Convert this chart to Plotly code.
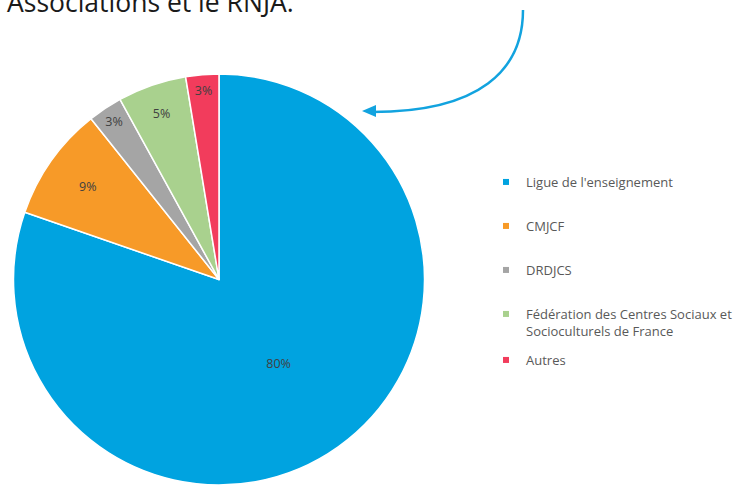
import plotly.graph_objects as go

W, H = 742, 485

# Data
categories = [
    "Ligue de l'enseignement",
    "CMJCF",
    "DRDJCS",
    "Fédération des Centres Sociaux et Socioculturels de France",
    "Autres",
]
legend_names = [
    "Ligue de l'enseignement",
    "CMJCF",
    "DRDJCS",
    "Fédération des Centres Sociaux et<br>Socioculturels de France",
    "Autres",
]
shares = [80.3, 9.0, 2.7, 5.4, 2.6]
colors = ["#00A3E0", "#F79A28", "#A5A5A5", "#A9D18E", "#F23C5C"]

# legend rows (pixel y of first text line)
legend_rows = [182, 226, 270, 314, 360]

fig = go.Figure()

fig.add_trace(go.Pie(
    labels=categories,
    values=shares,
    sort=False,
    direction="clockwise",
    rotation=0,
    marker=dict(colors=colors, line=dict(color="white", width=1.5)),
    texttemplate="%{percent:.0%}",
    textposition="inside",
    insidetextorientation="horizontal",
    textfont=dict(family="Open Sans", size=12.5, color="#404040"),
    domain=dict(x=[12 / W, 426 / W], y=[0, 411 / H]),
    showlegend=False,
    hoverinfo="label+percent",
))

# legend entries, one small legend each so the spacing follows the original
legend_layout = {}
for i, (name, col, row) in enumerate(zip(legend_names, colors, legend_rows)):
    key = "legend" if i == 0 else f"legend{i + 1}"
    fig.add_trace(go.Scatter(
        x=[None], y=[None], mode="markers",
        marker=dict(symbol="square", size=6, color=col),
        name=name, legend=key, showlegend=True,
    ))
    legend_layout[key] = dict(
        x=486 / W, xanchor="left",
        y=1 - (row - 15) / H, yanchor="top",
        font=dict(family="Open Sans", size=13, color="#595959"),
        bgcolor="rgba(0,0,0,0)",
        valign="top",
    )

# curved arrow pointing at the pie
fig.add_shape(
    type="path", xref="x", yref="y",
    path="M 523,10 C 523,70 480,112 372,112",
    line=dict(color="#12A3DF", width=2.5),
)
fig.add_shape(
    type="path", xref="x", yref="y",
    path="M 362,111 L 376,105 L 376,117 Z",
    fillcolor="#12A3DF", line=dict(color="#12A3DF", width=0),
)

# title text cut by the top edge
fig.add_annotation(
    text="Associations et le RNJA.",
    xref="x", yref="y", x=5, y=22,
    xanchor="left", yanchor="bottom",
    showarrow=False,
    font=dict(family="Open Sans", size=26.5, color="#1A1A1A"),
)

fig.update_layout(
    width=W, height=H,
    margin=dict(l=0, r=0, t=0, b=0),
    paper_bgcolor="white", plot_bgcolor="white",
    xaxis=dict(range=[0, W], visible=False, fixedrange=True),
    yaxis=dict(range=[H, 0], visible=False, fixedrange=True),
    **legend_layout,
)

fig.write_html(
    "out.html",
    config={"displayModeBar": False},
    post_script="document.body.style.margin='0';document.body.style.overflow='hidden';",
)
